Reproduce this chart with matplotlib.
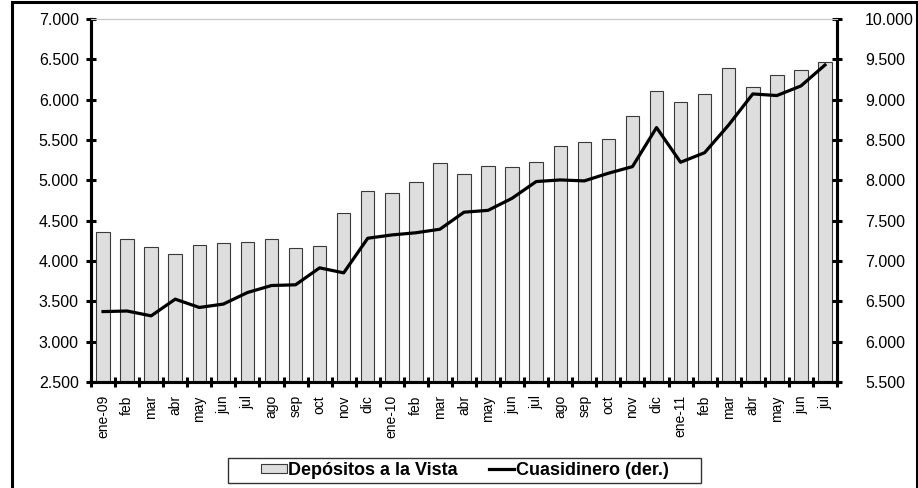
import numpy as np
import matplotlib.pyplot as plt
from matplotlib.patches import Rectangle
from matplotlib.lines import Line2D
from matplotlib.ticker import FuncFormatter

plt.rcParams['font.family'] = ['Liberation Sans', 'DejaVu Sans']

meses = ['ene-09', 'feb', 'mar', 'abr', 'may', 'jun', 'jul', 'ago', 'sep', 'oct', 'nov', 'dic',
         'ene-10', 'feb', 'mar', 'abr', 'may', 'jun', 'jul', 'ago', 'sep', 'oct', 'nov', 'dic',
         'ene-11', 'feb', 'mar', 'abr', 'may', 'jun', 'jul']

depositos_vista = [4357, 4270, 4178, 4088, 4203, 4220, 4232, 4270, 4165, 4190, 4592, 4873,
                   4844, 4976, 5212, 5083, 5175, 5162, 5232, 5430, 5480, 5513, 5802, 6108,
                   5968, 6071, 6389, 6154, 6306, 6368, 6471]

cuasidinero = [6373, 6380, 6320, 6527, 6424, 6466, 6609, 6696, 6705, 6915, 6853, 7282,
               7323, 7350, 7394, 7605, 7628, 7778, 7985, 8005, 7993, 8088, 8170, 8654,
               8224, 8343, 8687, 9071, 9051, 9170, 9430]


def miles(v, pos):
    return '{:,.0f}'.format(v).replace(',', '.')


fig = plt.figure(figsize=(9.18, 4.88), dpi=100)
W, H = 918, 488
ax = fig.add_axes([91 / W, 1 - 382 / H, (837 - 91) / W, (382 - 19) / H])
ax2 = ax.twinx()

x = np.arange(len(meses))
ax.bar(x, depositos_vista, width=0.56, color='#dedede', edgecolor='#3a3a3a', linewidth=0.8, zorder=2)
ax2.plot(x, cuasidinero, color='black', linewidth=2.3, zorder=3)

ax.set_xlim(-0.5, len(meses) - 0.5)
ax.set_ylim(2500, 7000)
ax2.set_ylim(5500, 10000)
ax.set_yticks(np.arange(2500, 7001, 500))
ax2.set_yticks(np.arange(5500, 10001, 500))
ax.yaxis.set_major_formatter(FuncFormatter(miles))
ax2.yaxis.set_major_formatter(FuncFormatter(miles))

ax.set_xticks(x)
ax.set_xticklabels(meses, rotation=90, fontsize=10)
ax.set_xticks(np.arange(-0.5, len(meses), 1), minor=True)
ax.tick_params(axis='x', which='major', length=0, pad=9.5)
ax.tick_params(axis='x', which='minor', direction='inout', length=7, width=2.2)
ax.tick_params(axis='y', direction='inout', length=6.5, width=2.2, labelsize=11.5, pad=5.5)
ax2.tick_params(axis='y', direction='inout', length=6.5, width=2.2, labelsize=11.5, pad=17)

for a in (ax, ax2):
    for s in ('left', 'right', 'bottom'):
        a.spines[s].set_linewidth(2.2)
        a.spines[s].set_color('black')
    a.spines['top'].set_color('#c8c8c8')
    a.spines['top'].set_linewidth(0.8)

# marco exterior del grafico
fig.patches.append(Rectangle((11.5 / W, -0.05), (917 - 11.5) / W, 1.05 - 1.5 / H,
                             transform=fig.transFigure, fill=False, edgecolor='black',
                             linewidth=2.2, zorder=10))
# caja de la leyenda
fig.patches.append(Rectangle((228 / W, 1 - 483 / H), (701 - 228) / W, 25 / H,
                             transform=fig.transFigure, fill=False, edgecolor='#333333',
                             linewidth=1.0, zorder=10))

handles = [Rectangle((0, 0), 1, 1, facecolor='#dedede', edgecolor='#3a3a3a', linewidth=0.8),
           Line2D([0], [0], color='black', linewidth=2.3)]
fig.legend(handles, ['Depósitos a la Vista', 'Cuasidinero (der.)'], loc='center',
           bbox_to_anchor=(465 / W, 1 - 470.5 / H), ncol=2, frameon=False,
           prop={'weight': 'bold', 'size': 13}, handlelength=1.4, handleheight=0.4,
           handletextpad=0.1, columnspacing=1.7, borderpad=0.2)

fig.savefig('out.png', dpi=100)
